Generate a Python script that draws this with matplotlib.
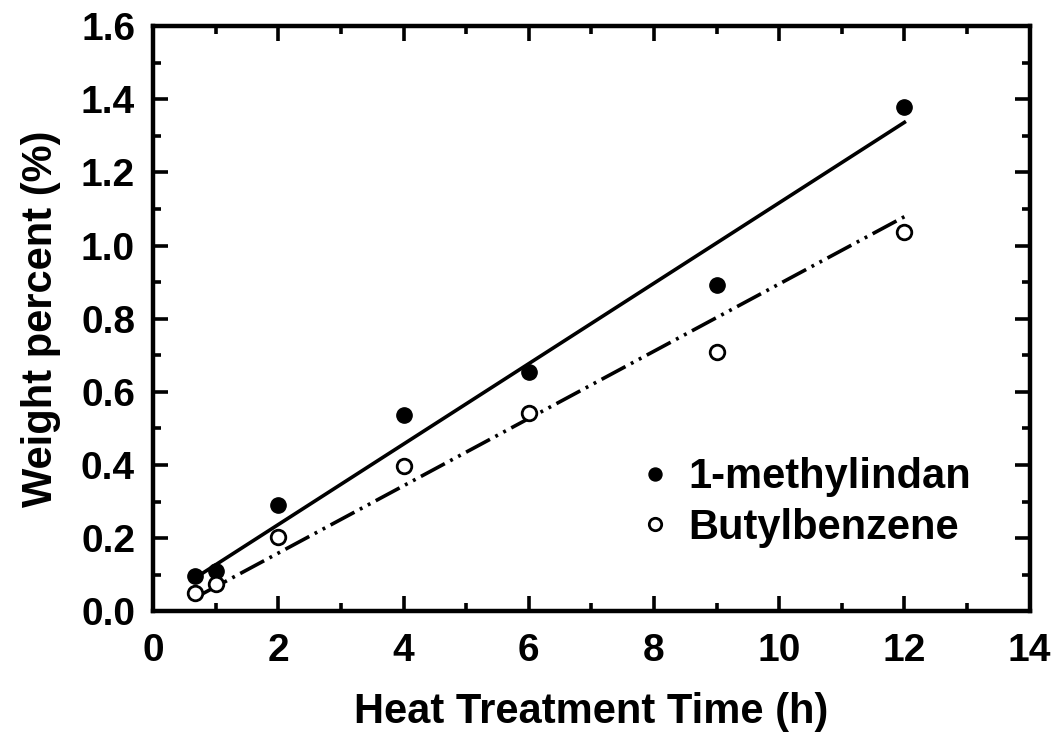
import numpy as np
import matplotlib
matplotlib.use("Agg")
import matplotlib.pyplot as plt
from matplotlib.ticker import MultipleLocator, FormatStrFormatter

plt.rcParams['font.family'] = ['Liberation Sans', 'DejaVu Sans']
plt.rcParams['font.weight'] = 'bold'

time_h = [0.67, 1, 2, 4, 6, 9, 12]
methylindan = [0.096, 0.11, 0.29, 0.537, 0.655, 0.893, 1.378]
butylbenzene = [0.049, 0.074, 0.203, 0.397, 0.542, 0.71, 1.038]
# fitted line parameters (slope, intercept)
fit_methylindan = [0.110, 0.017]
fit_butylbenzene = [0.092, -0.025]
fit_range = [0.67, 12]

fig = plt.figure(figsize=(10.56, 7.49), dpi=100)
ax = fig.add_axes([0.145, 0.184, 0.830, 0.781])

xf = np.array(fit_range)
ax.plot(xf, fit_methylindan[0] * xf + fit_methylindan[1], color='black', lw=2.6, ls='-')
ax.plot(xf, fit_butylbenzene[0] * xf + fit_butylbenzene[1], color='black', lw=2.6,
        ls=(0, (7.5, 1.7, 0.8, 1.7, 0.8, 1.7)))

ax.plot(time_h, methylindan, 'o', color='black', ms=11, label='1-methylindan')
ax.plot(time_h, butylbenzene, 'o', mfc='white', mec='black', mew=2.0, ms=10.5, label='Butylbenzene')

ax.set_xlim(0, 14)
ax.set_ylim(0, 1.6)
ax.xaxis.set_major_locator(MultipleLocator(2))
ax.xaxis.set_minor_locator(MultipleLocator(1))
ax.yaxis.set_major_locator(MultipleLocator(0.2))
ax.yaxis.set_minor_locator(MultipleLocator(0.1))
ax.yaxis.set_major_formatter(FormatStrFormatter('%.1f'))
ax.tick_params(which='both', direction='in', top=True, right=True, width=2.6, labelsize=28)
ax.tick_params(axis='x', which='major', pad=16)
ax.tick_params(axis='y', which='major', pad=13)
ax.tick_params(which='major', length=11)
ax.tick_params(which='minor', length=6)
for s in ax.spines.values():
    s.set_linewidth(3.2)

ax.set_xlabel('Heat Treatment Time (h)', fontsize=30, fontweight='bold', labelpad=16)
ax.set_ylabel('Weight percent (%)', fontsize=30, fontweight='bold', labelpad=14)

leg = ax.legend(loc='center left', bbox_to_anchor=(0.525, 0.186), frameon=False,
                fontsize=30, markerscale=0.85, handlelength=0.6, handletextpad=0.5,
                labelspacing=0.25, borderpad=0.2)

fig.savefig('out.png', dpi=100)
